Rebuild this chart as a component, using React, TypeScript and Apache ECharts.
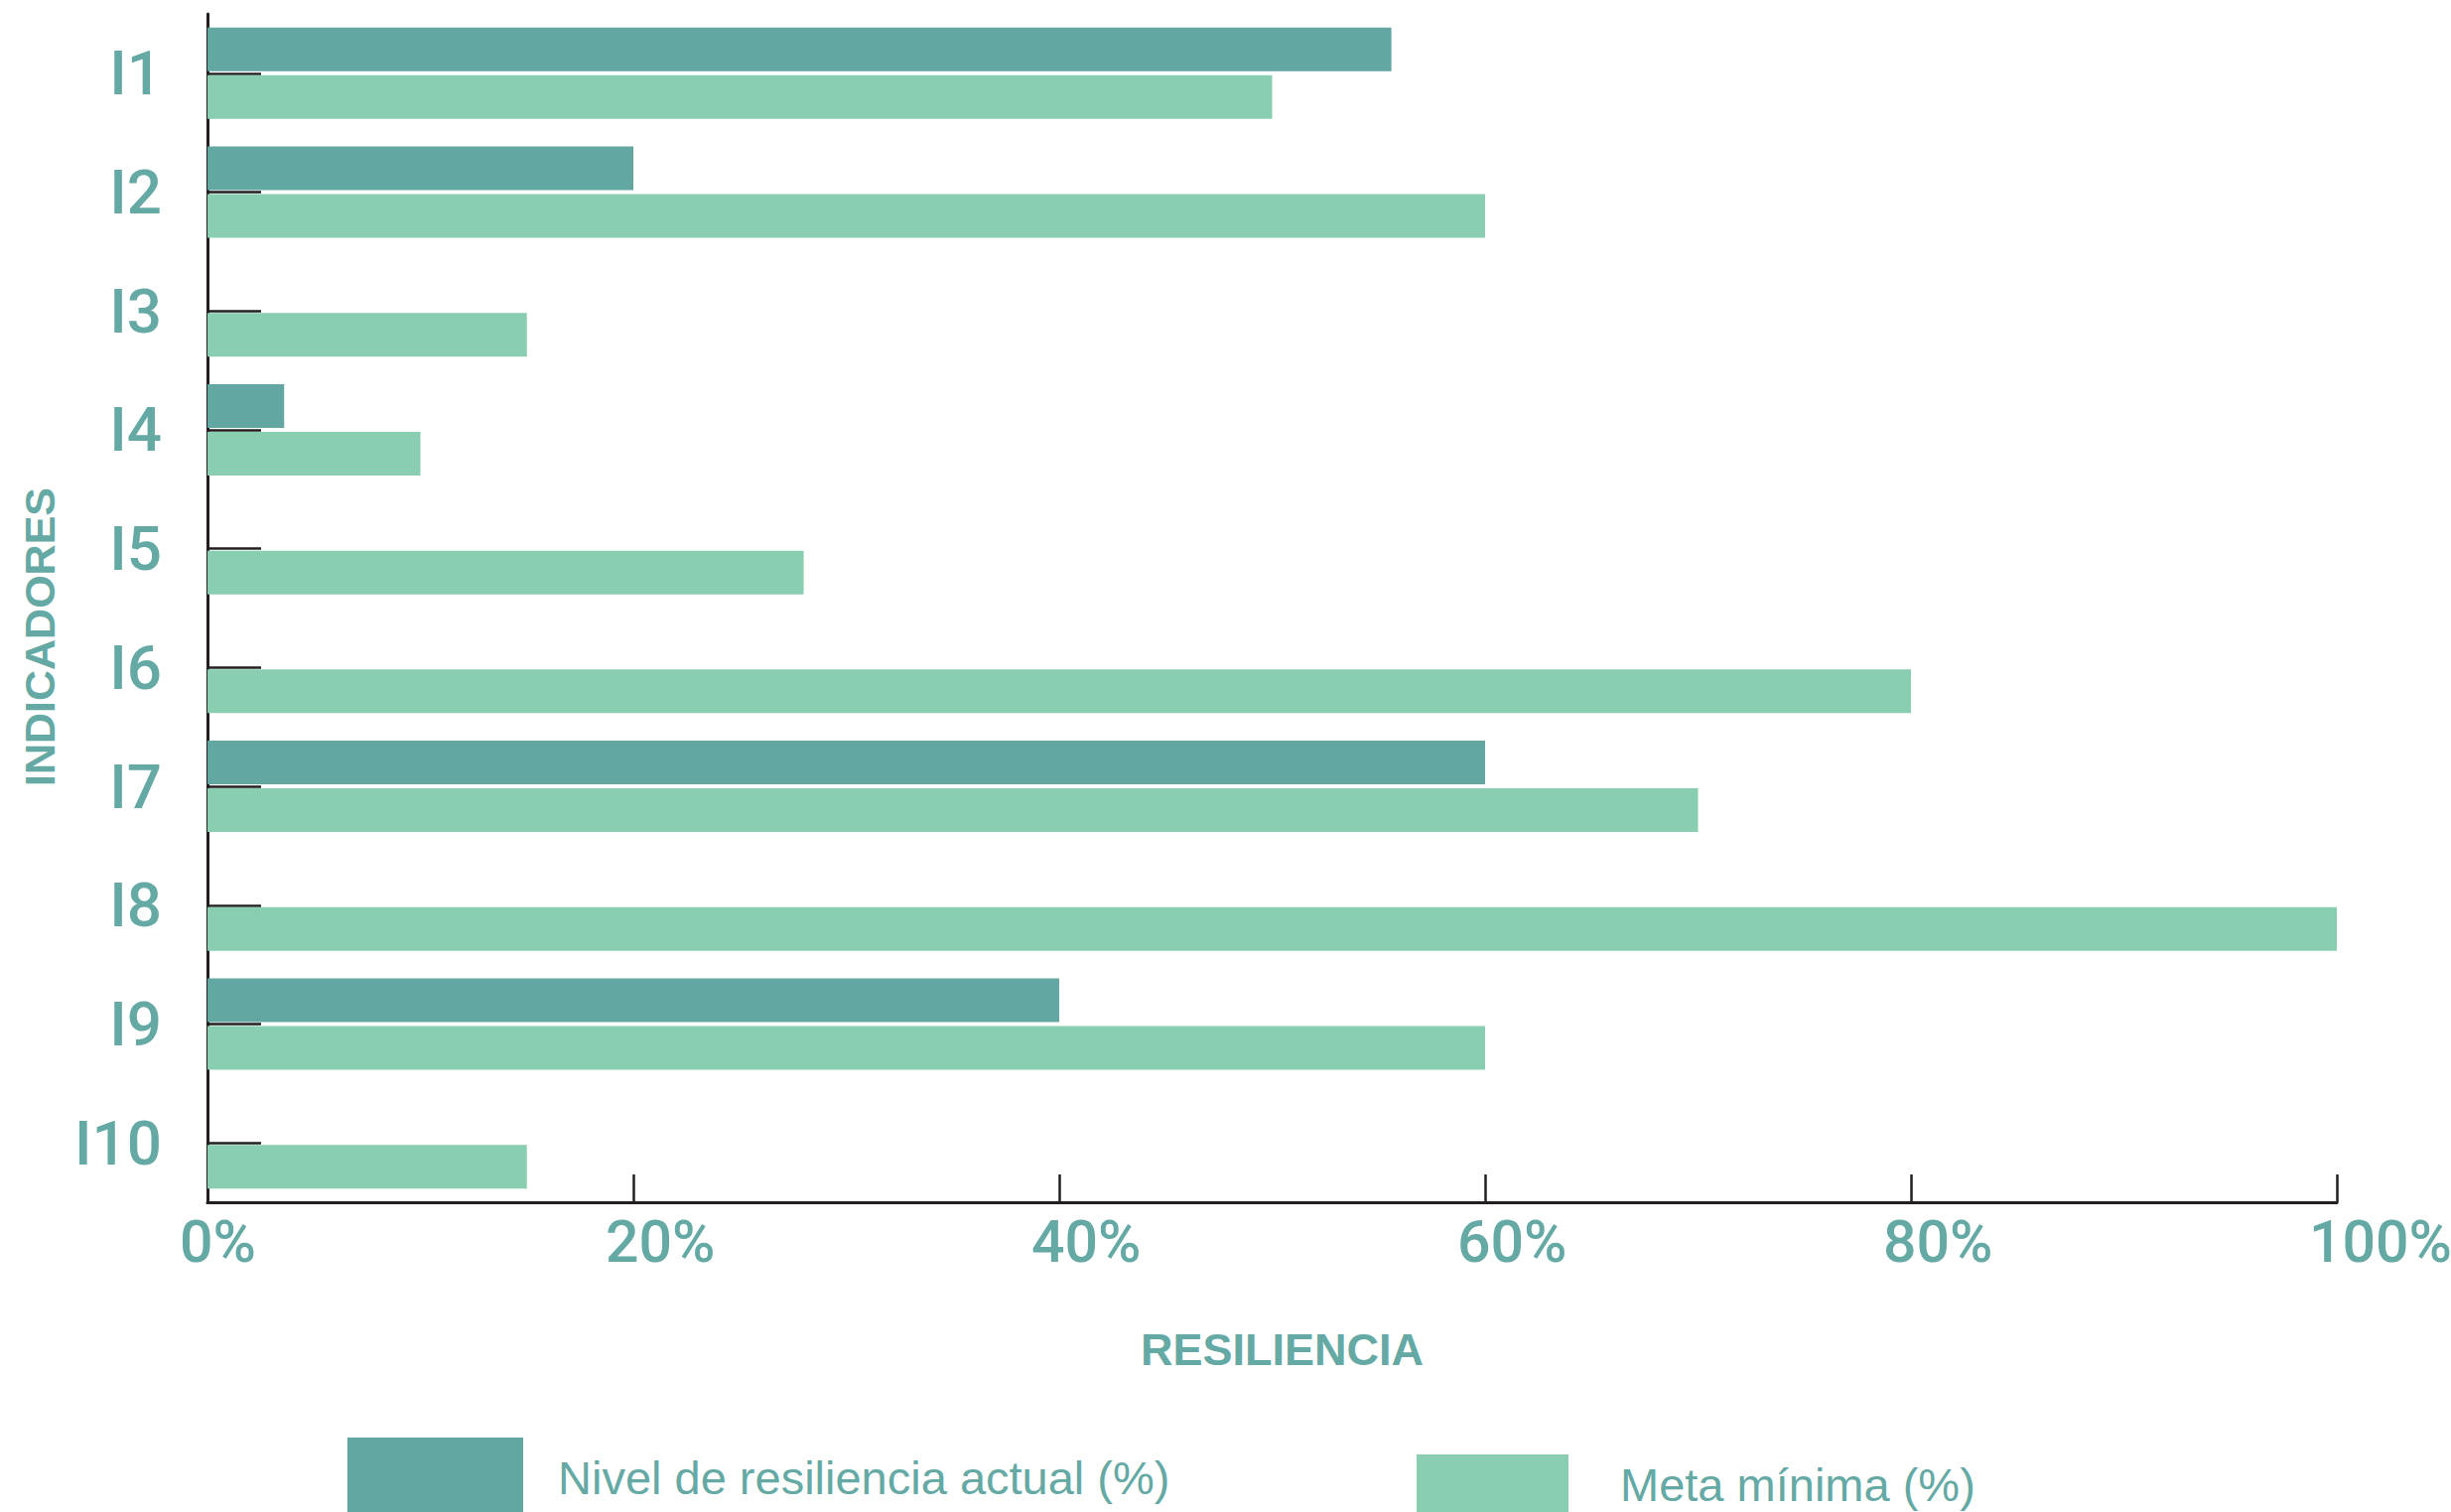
import React, { useEffect, useRef } from "react";
import * as echarts from "echarts";

const categories = ["I1", "I2", "I3", "I4", "I5", "I6", "I7", "I8", "I9", "I10"];
const nivelActual = [55.6, 20, 0, 3.6, 0, 0, 60, 0, 40, 0];
const metaMinima = [50, 60, 15, 10, 28, 80, 70, 100, 60, 15];
const seriesNames = ["Nivel de resiliencia actual (%)", "Meta mínima (%)"];
const xTicks = { min: 0, max: 100, interval: 20 };

const TEAL_TEXT = "#65A9A5";
const DARK = "#63A7A3";
const LIGHT = "#89CEB0";
const AXIS = "#231F20";
const LABEL_FONT = "Roboto, 'Liberation Sans', sans-serif";

export default function App() {
  const ref = useRef<HTMLDivElement>(null);
  useEffect(() => {
    document.body.style.margin = "0";
    if (!ref.current) return;
    const chart = echarts.init(ref.current, null, { renderer: "svg" });
    chart.setOption({
      animation: false,
      backgroundColor: "#ffffff",
      grid: { left: 209, right: 115, top: 14, bottom: 312, outerBoundsMode: "none" },
      xAxis: {
        type: "value",
        min: xTicks.min,
        max: xTicks.max,
        interval: xTicks.interval,
        name: "RESILIENCIA",
        nameLocation: "middle",
        nameGap: 126,
        nameTextStyle: {
          fontFamily: "Liberation Sans",
          fontWeight: "bold",
          fontSize: 45,
          color: TEAL_TEXT,
          padding: [0, 0, 0, 20],
        },
        axisLine: { show: true, lineStyle: { color: AXIS, width: 3 } },
        axisTick: { show: true, inside: true, length: 28, lineStyle: { color: AXIS, width: 2.5 } },
        splitLine: { show: false },
        axisLabel: {
          formatter: "{value}%",
          fontFamily: LABEL_FONT,
          fontWeight: 500,
          fontSize: 59,
          color: TEAL_TEXT,
          margin: 10,
          align: "left",
          padding: [0, 0, 0, -28],
        },
      },
      yAxis: {
        type: "category",
        data: categories,
        inverse: true,
        name: "INDICADORES",
        nameLocation: "middle",
        nameGap: 148,
        nameTextStyle: {
          fontFamily: "Liberation Sans",
          fontWeight: "bold",
          fontSize: 43,
          color: TEAL_TEXT,
          padding: [0, 58, 0, 0],
        },
        axisLine: { show: true, lineStyle: { color: AXIS, width: 3 } },
        axisTick: {
          show: true,
          inside: true,
          length: 54,
          alignWithLabel: true,
          lineStyle: { color: AXIS, width: 2.5 },
        },
        axisLabel: {
          fontFamily: LABEL_FONT,
          fontWeight: 500,
          fontSize: 62,
          color: TEAL_TEXT,
          margin: 46,
          padding: [0, 0, 8, 0],
        },
      },
      legend: [
        {
          data: [seriesNames[0]],
          left: 350,
          top: 1448,
          padding: 0,
          icon: "rect",
          itemWidth: 177,
          itemHeight: 80,
          selectedMode: false,
          textStyle: {
            fontFamily: "Liberation Sans",
            fontSize: 47,
            color: TEAL_TEXT,
            padding: [0, 0, 0, 30],
          },
        },
        {
          data: [seriesNames[1]],
          left: 1427,
          top: 1465,
          padding: 0,
          icon: "rect",
          itemWidth: 153,
          itemHeight: 60,
          selectedMode: false,
          textStyle: {
            fontFamily: "Liberation Sans",
            fontSize: 47,
            color: TEAL_TEXT,
            padding: [0, 0, 0, 47],
          },
        },
      ],
      series: [
        {
          name: seriesNames[0],
          type: "bar",
          data: nivelActual,
          barWidth: 44,
          barGap: "9%",
          itemStyle: { color: DARK },
          z: 1,
        },
        {
          name: seriesNames[1],
          type: "bar",
          data: metaMinima,
          barWidth: 44,
          barGap: "9%",
          itemStyle: { color: LIGHT },
          z: 1,
        },
      ],
    });
    return () => chart.dispose();
  }, []);
  return <div ref={ref} style={{ width: 2469, height: 1523 }} />;
}
